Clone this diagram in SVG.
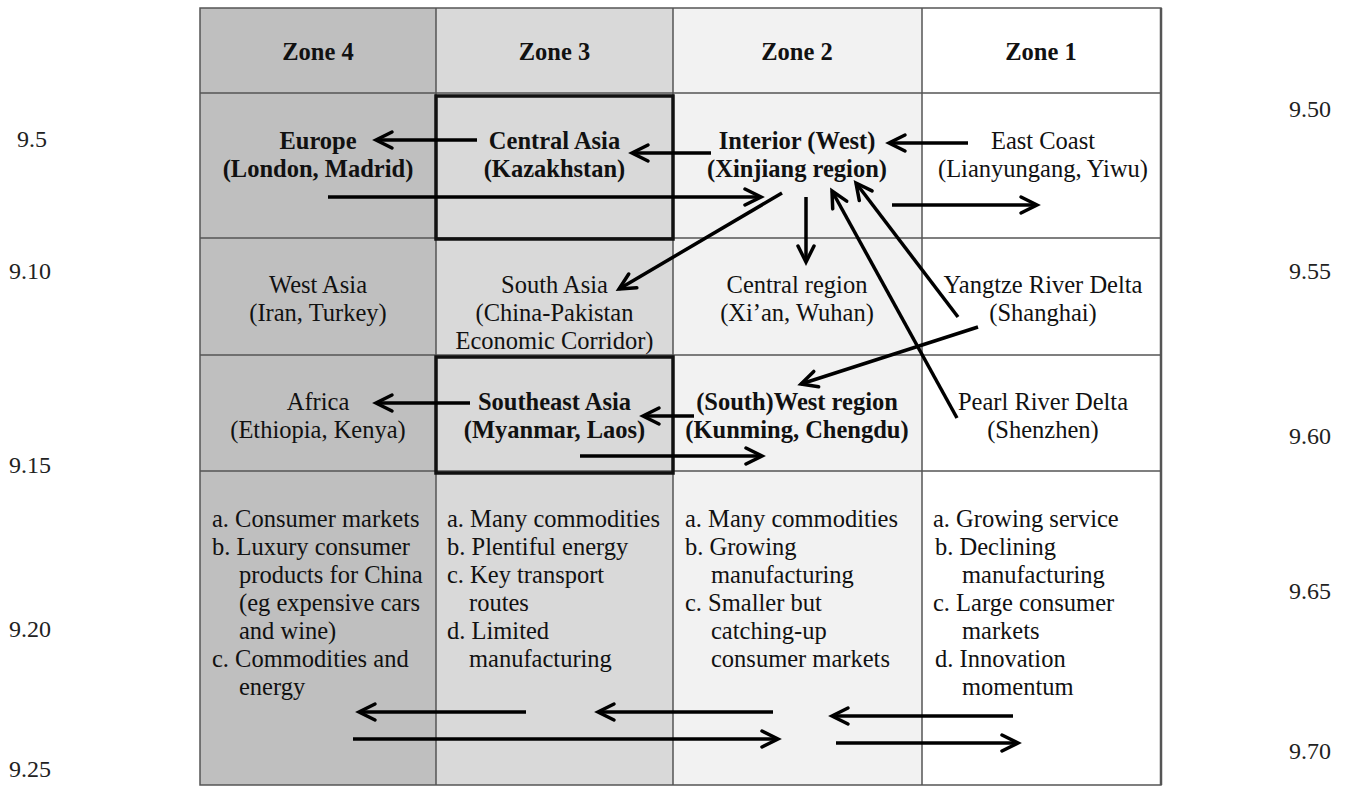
<svg xmlns="http://www.w3.org/2000/svg" width="1345" height="797" viewBox="0 0 1345 797">
<style>
text{font-family:"Liberation Serif","Times New Roman",serif;fill:#111;}
.h{font-size:24.5px;font-weight:bold;text-anchor:middle;}
.b{font-size:24.5px;font-weight:bold;text-anchor:middle;}
.r{font-size:24.5px;text-anchor:middle;}
.l{font-size:24.5px;}
.side{font-size:24px;fill:#222;}
.grid{stroke:#555;stroke-width:1.5;fill:none;}
.box{stroke:#111;stroke-width:3.5;fill:none;}
.arr{stroke:#000;stroke-width:3.5;fill:none;marker-end:url(#ah);}
</style>
<defs>
<marker id="ah" markerUnits="userSpaceOnUse" markerWidth="24" markerHeight="24" viewBox="-20 -12 24 24" refX="0" refY="0" orient="auto">
<path d="M-16,-8 L0,0 L-16,8" fill="none" stroke="#000" stroke-width="3.5" stroke-linecap="round" stroke-linejoin="miter"/>
</marker>
</defs>
<rect width="1345" height="797" fill="#fff"/>
<g id="table">
<rect x="200" y="8" width="236" height="777" fill="#bfbfbf"/>
<rect x="436" y="8" width="237" height="777" fill="#d9d9d9"/>
<rect x="673" y="8" width="249" height="777" fill="#f2f2f2"/>
<rect x="922" y="8" width="239" height="777" fill="#ffffff"/>
<rect class="grid" x="200" y="8" width="961" height="777"/>
<line class="grid" x1="1161" y1="8" x2="1161" y2="785" style="stroke-width:2.5"/>
<line class="grid" x1="436" y1="8" x2="436" y2="785"/>
<line class="grid" x1="673" y1="8" x2="673" y2="785"/>
<line class="grid" x1="922" y1="8" x2="922" y2="785"/>
<line class="grid" x1="200" y1="93" x2="1161" y2="93"/>
<line class="grid" x1="200" y1="238" x2="1161" y2="238"/>
<line class="grid" x1="200" y1="355" x2="1161" y2="355"/>
<line class="grid" x1="200" y1="471" x2="1161" y2="471"/>
<rect class="box" x="436" y="96" width="237" height="143"/>
<rect class="box" x="436" y="357" width="237" height="116"/>
</g>
<g id="headers">
<text class="h" x="318" y="60">Zone 4</text>
<text class="h" x="554.5" y="60">Zone 3</text>
<text class="h" x="797" y="60">Zone 2</text>
<text class="h" x="1041" y="60">Zone 1</text>
</g>
<g id="europe"><text class="b" x="318" y="149">Europe</text><text class="b" x="318" y="177">(London, Madrid)</text></g>
<g id="central-asia"><text class="b" x="554.5" y="149">Central Asia</text><text class="b" x="554.5" y="177">(Kazakhstan)</text></g>
<g id="interior"><text class="b" x="797" y="149">Interior (West)</text><text class="b" x="797" y="177">(Xinjiang region)</text></g>
<g id="east-coast"><text class="r" x="1043" y="149">East Coast</text><text class="r" x="1043" y="177">(Lianyungang, Yiwu)</text></g>
<g id="west-asia"><text class="r" x="318" y="293">West Asia</text><text class="r" x="318" y="321">(Iran, Turkey)</text></g>
<g id="south-asia"><text class="r" x="554.5" y="293">South Asia</text><text class="r" x="554.5" y="321">(China-Pakistan</text><text class="r" x="554.5" y="349">Economic Corridor)</text></g>
<g id="central-region"><text class="r" x="797" y="293">Central region</text><text class="r" x="797" y="321">(Xi’an, Wuhan)</text></g>
<g id="yangtze"><text class="r" x="1043" y="293">Yangtze River Delta</text><text class="r" x="1043" y="321">(Shanghai)</text></g>
<g id="africa"><text class="r" x="318" y="410">Africa</text><text class="r" x="318" y="438">(Ethiopia, Kenya)</text></g>
<g id="southeast-asia"><text class="b" x="554.5" y="410">Southeast Asia</text><text class="b" x="554.5" y="438">(Myanmar, Laos)</text></g>
<g id="southwest"><text class="b" x="797" y="410">(South)West region</text><text class="b" x="797" y="438">(Kunming, Chengdu)</text></g>
<g id="pearl"><text class="r" x="1043" y="410">Pearl River Delta</text><text class="r" x="1043" y="438">(Shenzhen)</text></g>
<g id="zone4-features">
<text class="l" x="212" y="527">a. Consumer markets</text>
<text class="l" x="212" y="555">b. Luxury consumer</text>
<text class="l" x="239" y="583">products for China</text>
<text class="l" x="239" y="611">(eg expensive cars</text>
<text class="l" x="239" y="639">and wine)</text>
<text class="l" x="212" y="667">c. Commodities and</text>
<text class="l" x="239" y="695">energy</text>
</g>
<g id="zone3-features">
<text class="l" x="447" y="527">a. Many commodities</text>
<text class="l" x="447" y="555">b. Plentiful energy</text>
<text class="l" x="447" y="583">c. Key transport</text>
<text class="l" x="469" y="611">routes</text>
<text class="l" x="447" y="639">d. Limited</text>
<text class="l" x="469" y="667">manufacturing</text>
</g>
<g id="zone2-features">
<text class="l" x="685" y="527">a. Many commodities</text>
<text class="l" x="685" y="555">b. Growing</text>
<text class="l" x="711" y="583">manufacturing</text>
<text class="l" x="685" y="611">c. Smaller but</text>
<text class="l" x="711" y="639">catching-up</text>
<text class="l" x="711" y="667">consumer markets</text>
</g>
<g id="zone1-features">
<text class="l" x="933" y="527">a. Growing service</text>
<text class="l" x="935" y="555">b. Declining</text>
<text class="l" x="962" y="583">manufacturing</text>
<text class="l" x="933" y="611">c. Large consumer</text>
<text class="l" x="962" y="639">markets</text>
<text class="l" x="935" y="667">d. Innovation</text>
<text class="l" x="962" y="695">momentum</text>
</g>
<g id="side-labels">
<text class="side" x="17" y="147">9.5</text>
<text class="side" x="9" y="279">9.10</text>
<text class="side" x="9" y="473">9.15</text>
<text class="side" x="9" y="637">9.20</text>
<text class="side" x="9" y="777">9.25</text>
<text class="side" x="1289" y="117">9.50</text>
<text class="side" x="1289" y="279">9.55</text>
<text class="side" x="1289" y="444">9.60</text>
<text class="side" x="1289" y="599">9.65</text>
<text class="side" x="1289" y="759">9.70</text>
</g>
<g id="connectors">
<line class="arr" x1="477" y1="140" x2="376" y2="140"/>
<line class="arr" x1="711" y1="153" x2="632" y2="153"/>
<line class="arr" x1="968" y1="143" x2="889" y2="143"/>
<line class="arr" x1="328" y1="197" x2="761" y2="197"/>
<line class="arr" x1="892" y1="205" x2="1037" y2="205"/>
<line class="arr" x1="782" y1="193" x2="619" y2="289"/>
<line class="arr" x1="806" y1="197" x2="806" y2="262"/>
<line class="arr" x1="958" y1="317" x2="856" y2="183"/>
<line class="arr" x1="957" y1="418" x2="832" y2="191"/>
<line class="arr" x1="978" y1="327" x2="801" y2="384"/>
<line class="arr" x1="694" y1="416" x2="643" y2="416"/>
<line class="arr" x1="470" y1="403" x2="376" y2="403"/>
<line class="arr" x1="580" y1="456" x2="762" y2="456"/>
<line class="arr" x1="526" y1="712" x2="359" y2="712"/>
<line class="arr" x1="773" y1="712" x2="598" y2="712"/>
<line class="arr" x1="1013" y1="716" x2="832" y2="716"/>
<line class="arr" x1="353" y1="739" x2="778" y2="739"/>
<line class="arr" x1="836" y1="743" x2="1018" y2="743"/>
</g>
</svg>
